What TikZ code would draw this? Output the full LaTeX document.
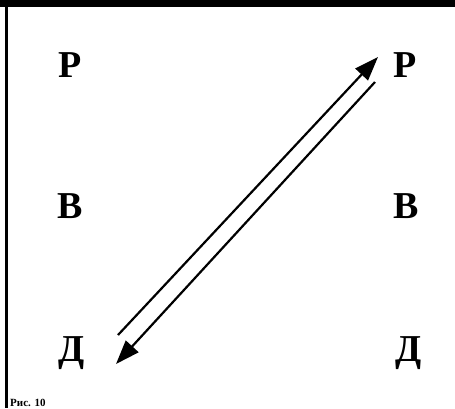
\documentclass[tikz,border=0pt]{standalone}
\usepackage{fontspec}
\setmainfont{Liberation Serif}
\usetikzlibrary{arrows.meta}
\begin{document}
\begin{tikzpicture}[x=1pt,y=-1pt,
  letter/.style={font=\fontsize{38}{38}\selectfont\bfseries, inner sep=0pt, anchor=base},
  link/.style={line width=2.2pt, -{Triangle[length=24pt,width=17pt]}}]
\useasboundingbox (0,0) rectangle (455,408);
% frame
\fill[black] (0,0) rectangle (455,7);
\draw[line width=3pt] (6.5,0) -- (6.5,408);
% letters
\node[letter] (LR) at (70,77) {Р};
\node[letter] (LB) at (70,218) {В};
\node[letter] (LD) at (72,361) {Д};
\node[letter] (RR) at (405,77) {Р};
\node[letter] (RB) at (406,218) {В};
\node[letter] (RD) at (409,361) {Д};
% connector end points
\coordinate (a1) at (118,335);
\coordinate (a2) at (378,57);
\coordinate (b1) at (375,82);
\coordinate (b2) at (116,364);
\draw[link] (a1) -- (a2);
\draw[link] (b1) -- (b2);
% caption at the lower edge
\node[font=\fontsize{11}{11}\selectfont\bfseries, inner sep=0pt, anchor=base west] (cap) at (10,406) {Рис. 10};
\end{tikzpicture}
\end{document}
